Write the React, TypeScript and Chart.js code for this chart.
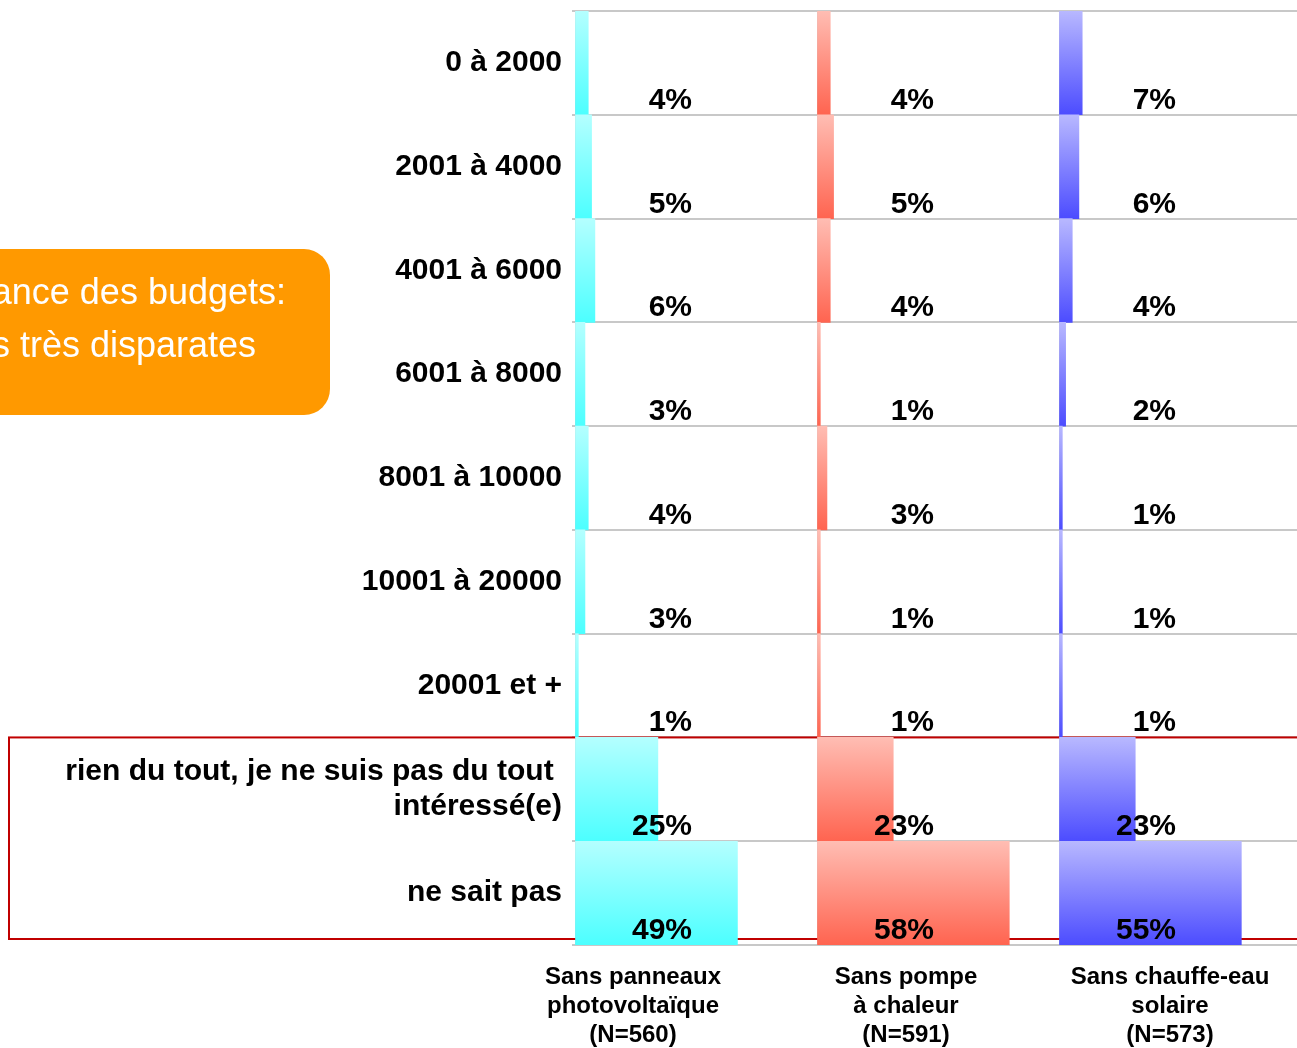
import React, { useEffect, useRef } from 'react';
import { Chart, registerables } from 'chart.js';

Chart.register(...registerables);

// ---------- data ----------
const categories: (string | string[])[] = [
  '0 à 2000',
  '2001 à 4000',
  '4001 à 6000',
  '6001 à 8000',
  '8001 à 10000',
  '10001 à 20000',
  '20001 et +',
  ['rien du tout, je ne suis pas du tout ', 'intéressé(e)'],
  'ne sait pas',
];
const photovoltaique = [4, 5, 6, 3, 4, 3, 1, 25, 49];
const pompeChaleur = [4, 5, 4, 1, 3, 1, 1, 23, 58];
const chauffeEau = [7, 6, 4, 2, 1, 1, 1, 23, 55];
const columnTitles = [
  ['Sans panneaux', 'photovoltaïque', '(N=560)'],
  ['Sans pompe', 'à chaleur', '(N=591)'],
  ['Sans chauffe-eau', 'solaire', '(N=573)'],
];
const axisMax = 73;
const boxLines = ['Importance des budgets:', 'des montants très disparates'];
const highlightedRows = [7, 8];

// ---------- styles ----------
const FONT = '"Liberation Sans", Arial, Helvetica, sans-serif';
const gradients: [string, string][] = [
  ['#B4FFFF', '#4CFFFF'],
  ['#FFBDB3', '#FF6450'],
  ['#B8B8FF', '#4C4CFF'],
];
const titleOffsets = [58, 89, 111];

function gradientFor(top: string, bottom: string) {
  return (ctx: any) => {
    const chart = ctx.chart;
    const y = chart.scales && chart.scales.y;
    if (!y || ctx.dataIndex == null) return bottom;
    const h = (y.bottom - y.top) / categories.length;
    const c = y.getPixelForValue(ctx.dataIndex);
    if (!isFinite(c) || !isFinite(h) || h <= 0) return bottom;
    const g = chart.ctx.createLinearGradient(0, c - h / 2, 0, c + h / 2);
    g.addColorStop(0, top);
    g.addColorStop(1, bottom);
    return g;
  };
}

const xScale = () => ({
  type: 'linear',
  stack: 'cols',
  position: 'bottom',
  min: 0,
  max: axisMax,
  afterBuildTicks: (s: any) => {
    s.ticks = [{ value: 0 }];
  },
  ticks: { display: false },
  grid: { color: '#c8c8c8', lineWidth: 1, drawTicks: false },
  border: { display: false },
  afterFit: (s: any) => {
    s.height = 0;
    s.paddingLeft = 0;
    s.paddingRight = 0;
  },
});

const decorPlugin = {
  id: 'decor',
  beforeDraw(chart: any) {
    const ctx = chart.ctx;
    ctx.save();
    ctx.fillStyle = '#FF9900';
    ctx.beginPath();
    ctx.roundRect(-40, 249, 370, 166, 26);
    ctx.fill();
    ctx.fillStyle = '#ffffff';
    ctx.font = `36px ${FONT}`;
    ctx.textAlign = 'right';
    ctx.textBaseline = 'alphabetic';
    ctx.fillText(boxLines[0], 286, 304);
    ctx.fillText(boxLines[1], 256, 357);
    ctx.restore();
  },
  beforeDatasetsDraw(chart: any) {
    const y = chart.scales.y;
    const h = (y.bottom - y.top) / categories.length;
    const top = y.getPixelForValue(highlightedRows[0]) - h / 2;
    const bottom = y.getPixelForValue(highlightedRows[highlightedRows.length - 1]) + h / 2 - 6;
    const ctx = chart.ctx;
    ctx.save();
    ctx.strokeStyle = '#C00000';
    ctx.lineWidth = 2;
    ctx.strokeRect(9, top, chart.width + 20, bottom - top);
    ctx.restore();
  },
  afterDatasetsDraw(chart: any) {
    const y = chart.scales.y;
    const h = (y.bottom - y.top) / categories.length;
    const ctx = chart.ctx;
    ctx.save();
    ctx.fillStyle = '#000';
    chart.data.datasets.forEach((ds: any, i: number) => {
      const xs = chart.scales[ds.xAxisID];
      ctx.font = `bold 30px ${FONT}`;
      ctx.textAlign = 'right';
      ctx.textBaseline = 'alphabetic';
      ds.data.forEach((v: number, j: number) => {
        const yc = y.getPixelForValue(j);
        ctx.fillText(`${Math.round(v)}%`, xs.left + 117, yc + h / 2 - 6);
      });
      ctx.font = `bold 24px ${FONT}`;
      ctx.textAlign = 'center';
      columnTitles[i].forEach((line, k) => {
        ctx.fillText(line, xs.left + titleOffsets[i], y.bottom + 39 + k * 29);
      });
    });
    ctx.restore();
  },
};

export default function App() {
  const ref = useRef<HTMLCanvasElement | null>(null);
  useEffect(() => {
    if (!ref.current) return;
    const series = [photovoltaique, pompeChaleur, chauffeEau];
    const names = columnTitles.map((t) => t.join(' '));
    const chart = new Chart(ref.current, {
      type: 'bar',
      data: {
        labels: categories as any,
        datasets: series.map((d, i) => ({
          label: names[i],
          data: d,
          xAxisID: 'x' + (i + 1),
          backgroundColor: gradientFor(gradients[i][0], gradients[i][1]),
          borderWidth: 0,
          grouped: false,
          barPercentage: 1,
          categoryPercentage: 1,
        })) as any,
      },
      options: {
        indexAxis: 'y',
        responsive: false,
        animation: false,
        devicePixelRatio: 1,
        layout: { padding: { top: 11, right: 9, bottom: 103, left: 0 } },
        plugins: { legend: { display: false }, tooltip: { enabled: false } },
        scales: {
          x1: xScale(),
          x2: xScale(),
          x3: xScale(),
          y: {
            type: 'category',
            offset: true,
            grid: { offset: true, color: '#c8c8c8', lineWidth: 2, tickLength: 3 },
            border: { display: false },
            ticks: {
              autoSkip: false,
              padding: 10,
              color: '#000',
              font: { family: FONT, size: 30, weight: 'bold', lineHeight: 1.17 },
            },
            afterFit: (s: any) => {
              s.width = 575;
              s.paddingTop = 0;
              s.paddingBottom = 0;
            },
          },
        } as any,
      } as any,
      plugins: [decorPlugin],
    });
    return () => chart.destroy();
  }, []);

  return (
    <div
      style={{
        position: 'fixed',
        left: 0,
        top: 0,
        width: 1297,
        height: 1048,
        overflow: 'hidden',
        background: '#fff',
      }}
    >
      <canvas ref={ref} width={1310} height={1048} style={{ width: 1310, height: 1048, display: 'block' }} />
    </div>
  );
}
